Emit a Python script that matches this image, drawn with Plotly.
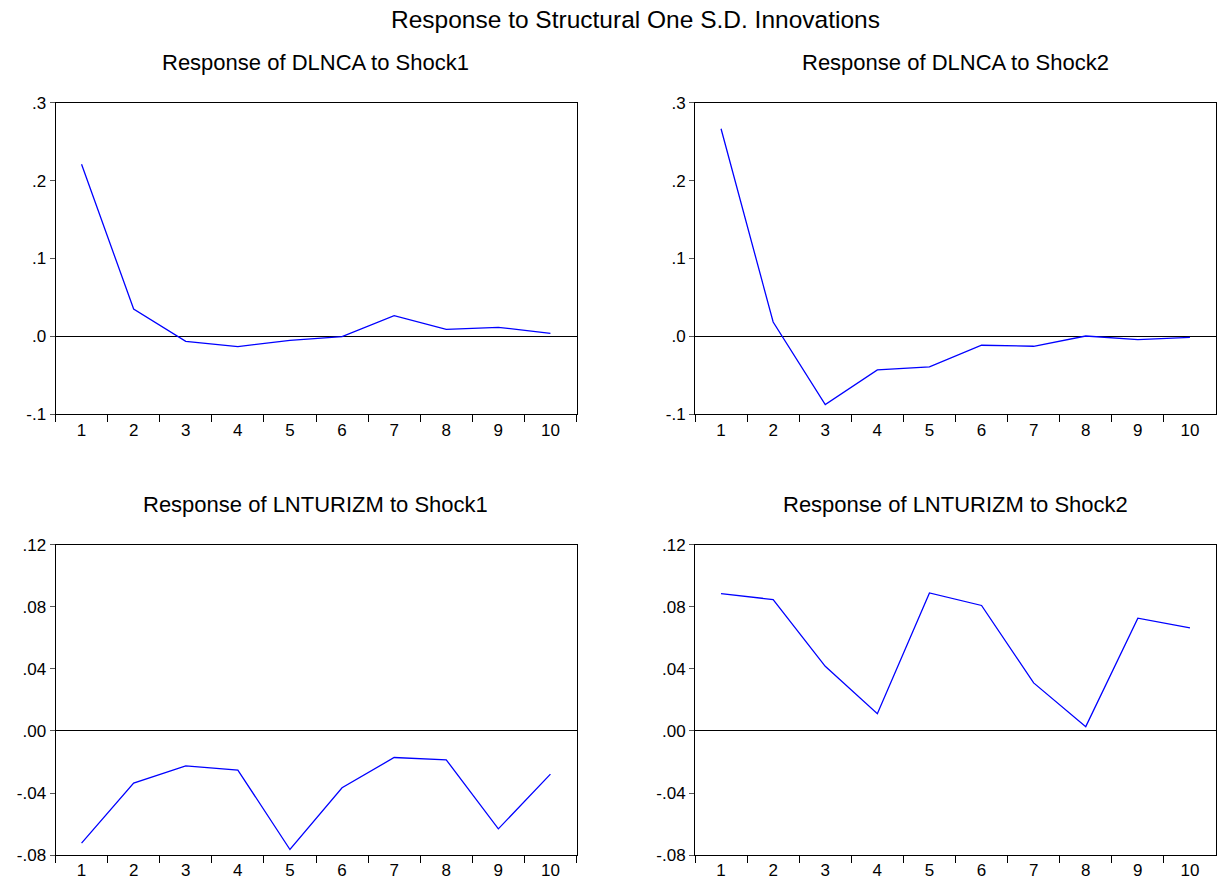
import plotly.graph_objects as go

periods = ["1", "2", "3", "4", "5", "6", "7", "8", "9", "10"]

dlnca_shock1 = [0.221, 0.035, -0.0064, -0.0133, -0.0051, -0.0004, 0.0266, 0.0090, 0.0116, 0.0039]
dlnca_shock2 = [0.2667, 0.0184, -0.0876, -0.0432, -0.0393, -0.0115, -0.0128, 0.0004, -0.0043, -0.0013]
lnturizm_shock1 = [-0.0723, -0.0336, -0.0225, -0.0252, -0.0764, -0.0366, -0.0171, -0.0186, -0.0631, -0.0278]
lnturizm_shock2 = [0.0886, 0.0847, 0.0417, 0.0111, 0.0890, 0.0809, 0.0310, 0.0028, 0.0727, 0.0665]

main_title = "Response to Structural One S.D. Innovations"
panel_titles = [
    "Response of DLNCA to Shock1",
    "Response of DLNCA to Shock2",
    "Response of LNTURIZM to Shock1",
    "Response of LNTURIZM to Shock2",
]

top_ticks = [-0.1, 0.0, 0.1, 0.2, 0.3]
top_labels = ["-.1", ".0", ".1", ".2", ".3"]
bot_ticks = [-0.08, -0.04, 0.0, 0.04, 0.08, 0.12]
bot_labels = ["-.08", "-.04", ".00", ".04", ".08", ".12"]

W, H = 1223, 890
FONT = "Liberation Sans, Arial, sans-serif"


def py(r):
    # target pixel row -> paper coordinate (compensates page offset/scaling seen in render)
    return 1 - ((r - 7.9) / 0.981) / H


left_dom = [55.5 / W, 576.5 / W]
right_dom = [695 / W, 1216 / W]
top_dom = [py(414), py(102)]
bot_dom = [py(856), py(545)]

panels = [
    (dlnca_shock1, left_dom, top_dom, top_ticks, top_labels, [-0.1, 0.3], 62),
    (dlnca_shock2, right_dom, top_dom, top_ticks, top_labels, [-0.1, 0.3], 62),
    (lnturizm_shock1, left_dom, bot_dom, bot_ticks, bot_labels, [-0.08, 0.12], 505),
    (lnturizm_shock2, right_dom, bot_dom, bot_ticks, bot_labels, [-0.08, 0.12], 505),
]

fig = go.Figure()
layout = {}
annotations = []
for i, (vals, xd, yd, tv, tl, yr, ty) in enumerate(panels, start=1):
    xa = "x" if i == 1 else f"x{i}"
    ya = "y" if i == 1 else f"y{i}"
    fig.add_trace(go.Scatter(x=periods, y=vals, mode="lines",
                             line=dict(color="#0000ff", width=1.3),
                             xaxis=xa, yaxis=ya, showlegend=False, hoverinfo="skip"))
    layout["xaxis" if i == 1 else f"xaxis{i}"] = dict(
        domain=xd, anchor=ya, type="category", categoryorder="array",
        categoryarray=periods, range=[-0.5, 9.5], tickson="boundaries",
        ticks="outside", ticklen=7, tickwidth=1, tickcolor="black",
        showline=True, linecolor="black", linewidth=1, mirror=True,
        showgrid=False, zeroline=False,
        tickfont=dict(family=FONT, size=17, color="black"), fixedrange=True)
    layout["yaxis" if i == 1 else f"yaxis{i}"] = dict(
        domain=yd, anchor=xa, range=yr, tickvals=tv, ticktext=tl,
        ticks="outside", ticklen=5, tickwidth=1, tickcolor="#555555",
        showline=True, linecolor="black", linewidth=1, mirror=True,
        showgrid=False, zeroline=True, zerolinecolor="black", zerolinewidth=1,
        tickfont=dict(family=FONT, size=17, color="black"), fixedrange=True)
    annotations.append(dict(
        text=panel_titles[i - 1], xref="paper", yref="paper",
        x=(xd[0] + xd[1]) / 2, y=py(ty), xanchor="center", yanchor="middle",
        showarrow=False, font=dict(family=FONT, size=22, color="black")))

annotations.append(dict(
    text=main_title, xref="paper", yref="paper", x=636 / W, y=py(18),
    xanchor="center", yanchor="middle", showarrow=False,
    font=dict(family=FONT, size=24.5, color="black")))

fig.update_layout(
    width=W, height=H, margin=dict(l=0, r=0, t=0, b=0),
    paper_bgcolor="white", plot_bgcolor="white",
    annotations=annotations, **layout)

fig.write_html("out.html", config={"displayModeBar": False},
               post_script=["document.body.style.margin='0';document.body.style.overflow='hidden';"])
